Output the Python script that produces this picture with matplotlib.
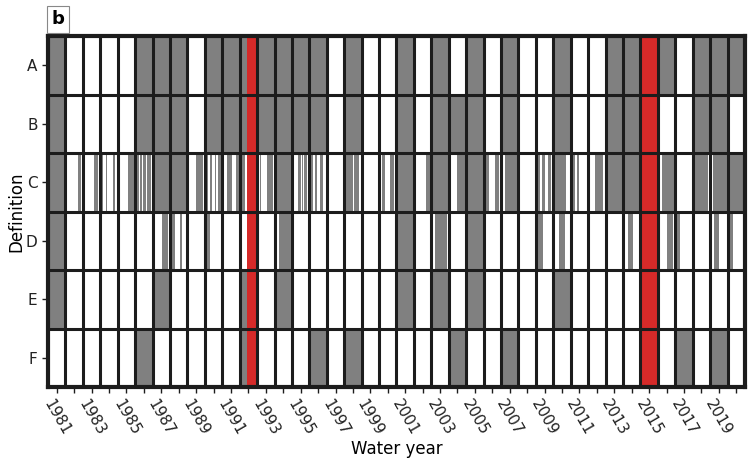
import matplotlib
matplotlib.use("Agg")
import matplotlib.pyplot as plt

# ---------------- data ----------------
years = list(range(1981, 2021))
definitions = ["A", "B", "C", "D", "E", "F"]

# annual flags (1 = drought year)
def_A = [1, 0, 0, 0, 0, 1, 1, 1, 0, 1, 1, 1, 1, 1, 1, 1, 0, 1, 0, 0,
         1, 0, 1, 0, 1, 0, 1, 0, 0, 1, 0, 0, 1, 1, 1, 1, 0, 1, 1, 1]
def_B = [1, 0, 0, 0, 0, 1, 1, 1, 0, 1, 1, 1, 1, 1, 1, 1, 0, 1, 0, 0,
         1, 0, 1, 1, 1, 0, 1, 0, 0, 1, 0, 0, 1, 1, 1, 0, 0, 1, 1, 0]
def_E = [1, 0, 0, 0, 0, 0, 1, 0, 0, 0, 0, 1, 0, 1, 0, 0, 0, 0, 0, 0,
         1, 0, 1, 0, 1, 0, 0, 0, 0, 1, 0, 0, 0, 0, 1, 0, 0, 0, 0, 0]
def_F = [0, 0, 0, 0, 0, 1, 0, 0, 0, 0, 0, 1, 0, 0, 0, 1, 0, 1, 0, 0,
         0, 0, 0, 1, 0, 0, 1, 0, 0, 0, 0, 0, 0, 0, 1, 0, 1, 0, 1, 0]

# sub-annual drought periods (fraction of the water year)
def_C_periods = {
    1981: [(0.0, 1.0)],
    1982: [(0.72, 0.9)],
    1983: [(0.65, 0.88)],
    1984: [(0.1, 0.18), (0.3, 0.38), (0.72, 0.85)],
    1985: [(0.6, 0.95)],
    1986: [(0.08, 0.2), (0.28, 0.38), (0.48, 0.62), (0.7, 0.9)],
    1987: [(0.0, 1.0)],
    1988: [(0.0, 1.0)],
    1989: [(0.5, 0.9)],
    1990: [(0.1, 0.2), (0.32, 0.42), (0.57, 0.67), (0.77, 0.95)],
    1991: [(0.0, 0.08), (0.27, 0.55), (0.8, 0.95)],
    1992: [(0.15, 0.3)],
    1993: [(0.15, 0.25), (0.55, 0.9)],
    1994: [(0.0, 1.0)],
    1995: [(0.35, 0.5), (0.55, 0.65), (0.7, 0.85)],
    1996: [(0.05, 0.2), (0.32, 0.45), (0.6, 0.8)],
    1998: [(0.1, 0.5), (0.55, 0.85)],
    2000: [(0.15, 0.35), (0.6, 0.85)],
    2001: [(0.0, 1.0)],
    2002: [(0.7, 0.95)],
    2003: [(0.05, 0.95)],
    2004: [(0.45, 0.95)],
    2005: [(0.0, 1.0)],
    2006: [(0.15, 0.3), (0.65, 0.9)],
    2007: [(0.25, 0.9)],
    2008: [(0.05, 0.1)],
    2009: [(0.12, 0.22), (0.35, 0.5), (0.68, 0.88)],
    2010: [(0.1, 0.75)],
    2011: [(0.15, 0.25), (0.38, 0.5)],
    2012: [(0.4, 0.85)],
    2013: [(0.1, 0.95)],
    2014: [(0.05, 0.95)],
    2015: [(0.0, 1.0)],
    2016: [(0.25, 0.92)],
    2018: [(0.1, 0.9)],
    2019: [(0.15, 0.95)],
    2020: [(0.1, 0.95)],
}
def_D_periods = {
    1981: [(0.0, 1.0)],
    1987: [(0.55, 0.9)],
    1988: [(0.05, 0.28), (0.55, 0.7)],
    1990: [(0.15, 0.32)],
    1994: [(0.25, 0.95)],
    2001: [(0.1, 1.0)],
    2003: [(0.2, 0.9)],
    2005: [(0.1, 0.95)],
    2009: [(0.15, 0.4)],
    2010: [(0.35, 0.65)],
    2014: [(0.3, 0.55)],
    2016: [(0.55, 0.85)],
    2017: [(0.1, 0.25)],
    2019: [(0.25, 0.5)],
    2020: [(0.1, 0.3)],
}

# highlighted drought events (red)
highlight_years = [1992, 2015]
highlight_start = [0.44, 0.0]
highlight_end = [1.0, 1.0]

# ---------------- plot ----------------
GRAY = "#808080"
RED = "#d62a29"
LINE = "#1c1c1c"

fig = plt.figure(figsize=(7.5, 4.58), dpi=100)
ax = fig.add_axes([0.064, 0.155, 0.9293, 0.7664])

annual = {"A": def_A, "B": def_B, "E": def_E, "F": def_F}
periods = {"C": def_C_periods, "D": def_D_periods}

for r, name in enumerate(definitions):
    if name in annual:
        xr = [(i, 1) for i, v in enumerate(annual[name]) if v]
    else:
        xr = []
        for yr, segs in periods[name].items():
            i = years.index(yr)
            for s, e in segs:
                xr.append((i + s, e - s))
    ax.broken_barh(xr, (r, 1), facecolors=GRAY, edgecolor="none")

for yr, s, e in zip(highlight_years, highlight_start, highlight_end):
    i = years.index(yr)
    ax.broken_barh([(i + s, e - s)], (0, len(definitions)),
                   facecolors=RED, edgecolor="none")

ax.vlines(range(1, len(years)), 0, len(definitions), color=LINE, lw=2.2)
ax.hlines(range(1, len(definitions)), 0, len(years), color=LINE, lw=2.2)

ax.set_xlim(0, len(years))
ax.set_ylim(len(definitions), 0)
for sp in ax.spines.values():
    sp.set_linewidth(3)
    sp.set_color(LINE)

ax.set_xticks([i + 0.5 for i in range(len(years))])
ax.set_xticklabels([str(y) if y % 2 == 1 else "" for y in years],
                   rotation=-60, ha="center", fontsize=11)
ax.set_yticks([r + 0.5 for r in range(len(definitions))])
ax.set_yticklabels(definitions, fontsize=11)
ax.tick_params(axis="both", length=4, width=1, color=LINE, colors="#222222")

ax.set_xlabel("Water year", fontsize=12, labelpad=1)
ax.set_ylabel("Definition", fontsize=12, labelpad=0)

fig.text(0.077, 0.958, "b", fontsize=13, fontweight="bold", ha="center",
         va="center",
         bbox=dict(boxstyle="square,pad=0.25", facecolor="white",
                   edgecolor="#888888", linewidth=0.8))

fig.savefig("out.png", dpi=100)
